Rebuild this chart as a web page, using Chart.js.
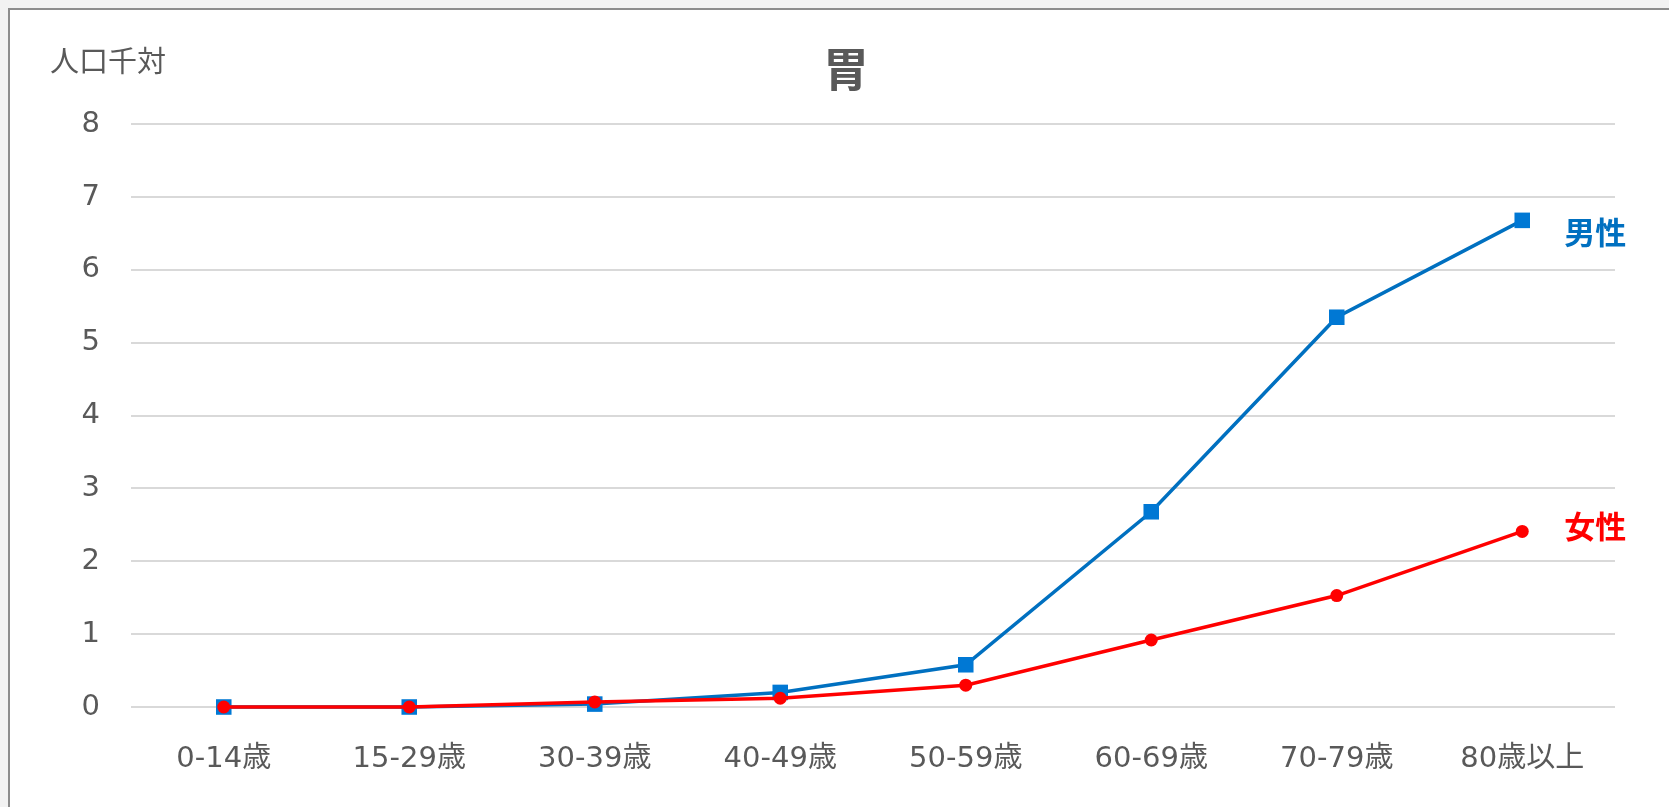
<!DOCTYPE html>
<html>
<head>
<meta charset="utf-8">
<script src="https://cdn.jsdelivr.net/npm/chart.js@4"></script>
<style>
    html, body { margin: 0; padding: 0; background: #f2f2f2; overflow: hidden; }
    #frame {
        position: absolute; left: 8px; top: 8px;
        width: 1680px; height: 820px;
        background: #ffffff;
        border-top: 2px solid #8c8c8c;
        border-left: 2px solid #8c8c8c;
    }
    #chart { display: block; }
</style>
</head>
<body>
<div id="frame"><canvas id="chart" width="1672" height="797"></canvas></div>
<script>
// 年齢階級別 罹患率(人口千対)
var categories = ['0-14歳', '15-29歳', '30-39歳', '40-49歳', '50-59歳', '60-69歳', '70-79歳', '80歳以上'];
var maleValues = [0, 0, 0.04, 0.2, 0.58, 2.68, 5.35, 6.68];
var femaleValues = [0, 0, 0.07, 0.12, 0.3, 0.92, 1.53, 2.41];
var yTicks = [0, 1, 2, 3, 4, 5, 6, 7, 8];

var fontFamily = '"DejaVu Sans", "Noto Sans CJK JP", sans-serif';
var cjkFamily = '"Noto Sans CJK JP", sans-serif';
var textColor = '#595959';

// series name drawn to the right of the last point
var seriesLabels = {
    id: 'seriesLabels',
    afterDatasetsDraw: function (chart) {
        var ctx = chart.ctx;
        chart.data.datasets.forEach(function (ds, i) {
            var meta = chart.getDatasetMeta(i);
            var last = meta.data[meta.data.length - 1];
            if (!last) return;
            ctx.save();
            ctx.font = 'bold 31px ' + cjkFamily;
            ctx.fillStyle = ds.labelColor;
            ctx.textAlign = 'left';
            ctx.textBaseline = 'middle';
            ctx.fillText(ds.label, last.x + 42, last.y + ds.labelDy);
            ctx.restore();
        });
    }
};

// unit text above the y axis
var unitLabel = {
    id: 'unitLabel',
    afterDraw: function (chart) {
        var ctx = chart.ctx;
        ctx.save();
        ctx.font = '29px ' + cjkFamily;
        ctx.fillStyle = textColor;
        ctx.textAlign = 'left';
        ctx.textBaseline = 'middle';
        ctx.fillText('人口千対', 40, 51);
        ctx.restore();
    }
};

var ctx = document.getElementById('chart');
var chart = new Chart(ctx, {
    type: 'line',
    plugins: [seriesLabels, unitLabel],
    data: {
        labels: categories,
        datasets: [{
            label: '男性',
            data: maleValues,
            order: 1,
            clip: false,
            borderColor: '#0070c0',
            borderWidth: 3.5,
            pointStyle: 'rect',
            pointRadius: 11,
            pointBackgroundColor: '#0078d4',
            pointBorderWidth: 0,
            labelColor: '#0070c0',
            labelDy: 12
        }, {
            label: '女性',
            data: femaleValues,
            order: 0,
            clip: false,
            borderColor: '#ff0000',
            borderWidth: 3.5,
            pointStyle: 'circle',
            pointRadius: 6.5,
            pointBackgroundColor: '#ff0000',
            pointBorderWidth: 0,
            labelColor: '#ff0000',
            labelDy: -5
        }]
    },
    options: {
        responsive: false,
        animation: false,
        layout: { padding: { left: 0, right: 0, top: 0, bottom: 31 } },
        plugins: {
            legend: { display: false },
            tooltip: { enabled: false },
            title: {
                display: true,
                text: '胃',
                color: textColor,
                font: { family: cjkFamily, size: 46, weight: 'bold' },
                padding: { top: 31, bottom: 28 }
            }
        },
        scales: {
            x: {
                offset: true,
                afterFit: function (scale) { scale.height = 69; },
                grid: { display: false, drawTicks: false, tickLength: 0 },
                border: { display: false },
                ticks: {
                    color: textColor,
                    padding: 35,
                    maxRotation: 0,
                    font: { family: fontFamily, size: 29 }
                }
            },
            y: {
                min: 0,
                max: 8,
                afterFit: function (scale) { scale.width = 121; },
                afterBuildTicks: function (scale) {
                    scale.ticks = yTicks.map(function (v) { return { value: v }; });
                },
                grid: { color: '#d9d9d9', lineWidth: 2, drawTicks: false, tickLength: 0 },
                border: { display: false },
                ticks: {
                    color: textColor,
                    padding: 31,
                    font: { family: fontFamily, size: 29 }
                }
            },
            // empty right-hand axis that keeps the space for the series names
            side: {
                position: 'right',
                min: 0,
                max: 8,
                afterFit: function (scale) { scale.width = 67; },
                grid: { display: false, drawTicks: false },
                border: { display: false },
                ticks: { display: false }
            }
        }
    }
});
</script>
</body>
</html>
